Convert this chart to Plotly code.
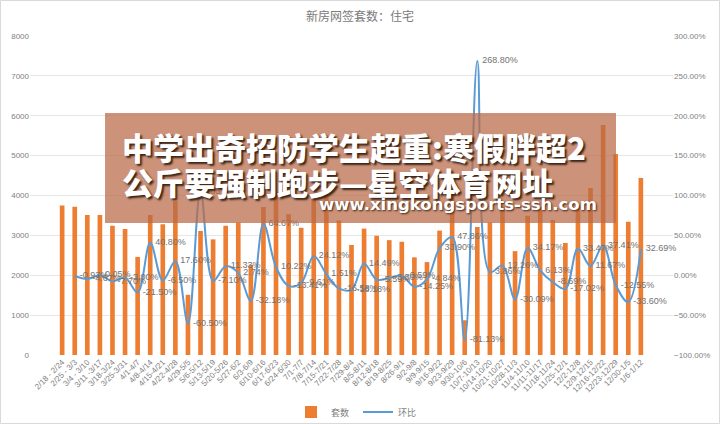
import plotly.graph_objects as go

categories = ["2/18 - 2/24", "2/25 - 3/3", "3/4 - 3/10", "3/11 -3/17", "3/18-3/24", "3/25-3/31",
              "4/1-4/7", "4/8-4/14", "4/15-4/21", "4/22-4/28", "4/29-5/5", "5/6-5/12",
              "5/13-5/19", "5/20-5/26", "5/27-6/2", "6/3-6/9", "6/10-6/16", "6/17-6/23",
              "6/24-6/30", "7/1-7/7", "7/8-7/14", "7/15-7/21", "7/22-7/28", "7/29-8/4",
              "8/5-8/11", "8/12-8/18", "8/19-8/25", "8/26-9/1", "9/2-9/8", "9/9-9/15",
              "9/16-9/22", "9/23-9/29", "9/30-10/6", "10/7-10/13", "10/14-10/20", "10/21-10/27",
              "10/28-11/3", "11/4-11/10", "11/11-11/17", "11/18-11/24", "11/25-12/1", "12/2-12/8",
              "12/9-12/15", "12/16-12/22", "12/23-12/29", "12/30-1/5", "1/6-1/12"]

units = [3750, 3715, 3510, 3510, 3240, 3160, 2460, 3510, 3280, 3850, 1510, 3110,
         2900, 3240, 3320, 2260, 3710, 4090, 3530, 3190, 3970, 4030, 3370, 2760,
         3170, 2990, 2880, 2840, 2450, 2330, 3120, 4600, 870, 3210, 3320, 3730,
         2605, 3495, 3710, 3385, 2810, 3750, 4190, 5770, 5040, 3340, 4440]

mom_pct = [None, -0.93, -4.67, 0.05, -7.70, -3.00, -21.50, 40.80, -6.50, 17.60, -60.50, 105.17,
           -7.10, 11.33, 2.74, -32.18, 64.67, 10.22, -13.41, -9.61, 24.12, 1.51, -16.58, -18.18,
           14.49, -5.59, -3.50, -0.59, -14.25, -4.84, 33.90, 47.86, -81.13, 268.80, 3.86, 12.26,
           -30.09, 34.17, 6.13, -8.69, -17.02, 33.47, 11.67, 37.41, -12.55, -33.60, 32.69]

title_text = "新房网签套数：住宅"
banner_line1 = "中学出奇招防学生超重:寒假胖超2"
banner_line2 = "公斤要强制跑步—星空体育网址"
banner_url = "www.xingkongsports-ssh.com"

mom_frac = [None if v is None else v / 100 for v in mom_pct]
mom_text = ["" if v is None else "\u00a0\u00a0" + f"{v:.2f}%" for v in mom_pct]

GRAY = "#7f7f7f"
fig = go.Figure()
fig.add_trace(go.Bar(x=categories, y=units, name="套数", marker_color="#ED7D31",
                     marker_line_width=0, yaxis="y"))
fig.add_trace(go.Scatter(x=categories, y=mom_frac, name="环比", yaxis="y2",
                         mode="lines+text", text=mom_text, textposition="middle right",
                         textfont=dict(size=9, color="#727272", family="Liberation Sans"),
                         line=dict(color="#5B9BD5", width=2, shape="spline", smoothing=1),
                         connectgaps=False, cliponaxis=False))

L, R, T, B = 30, 47, 36, 69
W, H = 720, 424
pw, ph = W - L - R, H - T - B

def px(x):
    return (x - L) / pw

def py(y):
    return (H - B - y) / ph

fig.update_layout(
    width=W, height=H,
    margin=dict(l=L, r=R, t=T, b=B, autoexpand=False),
    paper_bgcolor="white", plot_bgcolor="white",
    bargap=0.63,
    font=dict(family="Liberation Sans", color=GRAY),
    title=dict(text=title_text, x=0.5, xanchor="center", y=1 - 17 / H, yanchor="middle",
               yref="container", font=dict(size=12, color="#7a7a7a", family="Noto Sans CJK SC")),
    xaxis=dict(type="category", tickangle=-45, tickfont=dict(size=8, color=GRAY),
               showgrid=False, showline=False, ticks="", automargin=False),
    yaxis=dict(range=[0, 8000], dtick=1000, tickfont=dict(size=8, color=GRAY),
               showgrid=True, gridcolor="#e6e6e6", gridwidth=1, zeroline=False,
               ticks="", automargin=False, showline=False),
    yaxis2=dict(range=[-1, 3], dtick=0.5, tickformat=".2%", overlaying="y", side="right",
                tickfont=dict(size=8, color=GRAY), showgrid=False, zeroline=False,
                ticks="", automargin=False, showline=False),
    legend=dict(orientation="h", x=px(291), xanchor="left", y=py(412), yanchor="middle",
                font=dict(size=9, color=GRAY, family="Noto Sans CJK SC"),
                itemwidth=30, entrywidth=22, tracegroupgap=0,
                bgcolor="rgba(0,0,0,0)"),
    showlegend=True,
)

# outer chart border
fig.add_shape(type="rect", xref="paper", yref="paper",
              x0=px(0.5), x1=px(W - 0.5), y0=py(H - 0.5), y1=py(0.5),
              line=dict(color="#d9d9d9", width=1), fillcolor="rgba(0,0,0,0)", layer="below")

# overlay banner
fig.add_shape(type="rect", xref="paper", yref="paper",
              x0=px(105), x1=px(616), y0=py(223), y1=py(113),
              line=dict(width=0), fillcolor="rgba(185,105,70,0.72)", layer="above")

shadow = "2px 2px 2px #3b2416"
fig.add_annotation(xref="paper", yref="paper", x=px(120), y=py(146), xanchor="left",
                   yanchor="middle", showarrow=False, text=banner_line1,
                   font=dict(size=31, color="white", family="Noto Sans CJK SC", weight=900,
                             shadow=shadow))
fig.add_annotation(xref="paper", yref="paper", x=px(120), y=py(181), xanchor="left",
                   yanchor="middle", showarrow=False, text=banner_line2,
                   font=dict(size=31, color="white", family="Noto Sans CJK SC", weight=900,
                             shadow=shadow))
fig.add_annotation(xref="paper", yref="paper", x=px(599), y=py(204), xanchor="right",
                   yanchor="middle", showarrow=False, text=banner_url,
                   font=dict(size=16.5, color="white", family="DejaVu Sans", weight=700,
                             shadow="1px 1px 2px #3b2416"))

fig.write_html("out.html")
